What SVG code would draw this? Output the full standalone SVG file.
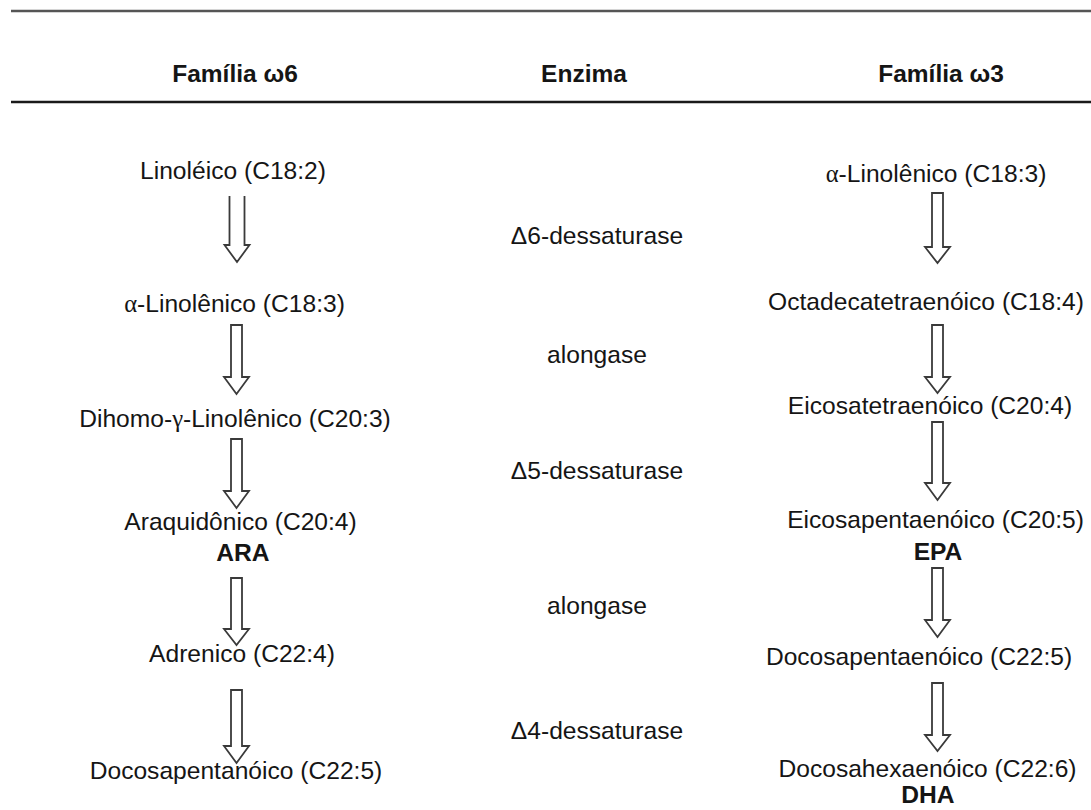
<svg xmlns="http://www.w3.org/2000/svg" width="1091" height="810" viewBox="0 0 1091 810">
<style>
text{font-family:"Liberation Sans",Arial,sans-serif;fill:#151515;text-anchor:middle}
.h{font-size:24.5px;font-weight:bold}
.t{font-size:24.6px}
.b{font-size:24.6px;font-weight:bold}
.g{font-family:"Liberation Serif","Times New Roman",serif}
.arr{fill:#fff;stroke:#3a3a3a;stroke-width:1.8;stroke-linejoin:miter}
</style>
<rect width="1091" height="810" fill="#fff"/>
<g id="rules">
<line x1="11" y1="11" x2="1091" y2="11" stroke="#555" stroke-width="2.5"/>
<line x1="11" y1="102" x2="1091" y2="102" stroke="#1a1a1a" stroke-width="2.5"/>
</g>
<g id="headers">
<text class="h" x="235" y="82">Família ω6</text>
<text class="h" x="584" y="82">Enzima</text>
<text class="h" x="941" y="82">Família ω3</text>
</g>
<g id="w6-linoleico"><text class="t" x="233" y="179">Linoléico (C18:2)</text></g>
<g id="w6-alfa"><text class="t" x="234.5" y="312"><tspan class="g">α</tspan>-Linolênico (C18:3)</text></g>
<g id="w6-dihomo"><text class="t" x="235" y="427">Dihomo-<tspan class="g">γ</tspan>-Linolênico (C20:3)</text></g>
<g id="w6-ara"><text class="t" x="240.5" y="530">Araquidônico (C20:4)</text><text class="b" x="243" y="561">ARA</text></g>
<g id="w6-adrenico"><text class="t" x="242" y="662">Adrenico (C22:4)</text></g>
<g id="w6-docosa"><text class="t" x="236" y="779">Docosapentanóico (C22:5)</text></g>
<g id="enz-d6"><text class="t" x="597" y="244">Δ6-dessaturase</text></g>
<g id="enz-along1"><text class="t" x="597" y="363">alongase</text></g>
<g id="enz-d5"><text class="t" x="597" y="479">Δ5-dessaturase</text></g>
<g id="enz-along2"><text class="t" x="597" y="614">alongase</text></g>
<g id="enz-d4"><text class="t" x="597" y="739">Δ4-dessaturase</text></g>
<g id="w3-alfa"><text class="t" x="936" y="181.5"><tspan class="g">α</tspan>-Linolênico (C18:3)</text></g>
<g id="w3-octa"><text class="t" x="926" y="310">Octadecatetraenóico (C18:4)</text></g>
<g id="w3-eicosatetra"><text class="t" x="930" y="414">Eicosatetraenóico (C20:4)</text></g>
<g id="w3-epa"><text class="t" x="935.5" y="528">Eicosapentaenóico (C20:5)</text><text class="b" x="938" y="560">EPA</text></g>
<g id="w3-docosapenta"><text class="t" x="919" y="665">Docosapentaenóico (C22:5)</text></g>
<g id="w3-dha"><text class="t" x="927.5" y="777">Docosahexaenóico (C22:6)</text><text class="b" x="928" y="803">DHA</text></g>
<g id="connectors">
<path class="arr" d="M229.5,196 V245 H224.5 L237,262 L249.5,245 H244.5 V196"/>
<path class="arr" d="M231,325 V377 H224 L236.5,394 L249,377 H242 V325 Z"/>
<path class="arr" d="M231,439 V491 H224 L236.5,508 L249,491 H242 V439 Z"/>
<path class="arr" d="M231,578 V629 H224 L236.5,645 L249,629 H242 V578 Z"/>
<path class="arr" d="M231,690 V746 H224 L236.5,763 L249,746 H242 V690 Z"/>
<path class="arr" d="M932,193 V247 H925 L937.5,263 L950,247 H943 V193 Z"/>
<path class="arr" d="M932,325 V377 H925 L937.5,393 L950,377 H943 V325 Z"/>
<path class="arr" d="M932,422 V483 H925 L937.5,500 L950,483 H943 V422 Z"/>
<path class="arr" d="M932,568 V620 H925 L937.5,637 L950,620 H943 V568 Z"/>
<path class="arr" d="M932,683 V735 H925 L937.5,751 L950,735 H943 V683 Z"/>
</g>
</svg>
